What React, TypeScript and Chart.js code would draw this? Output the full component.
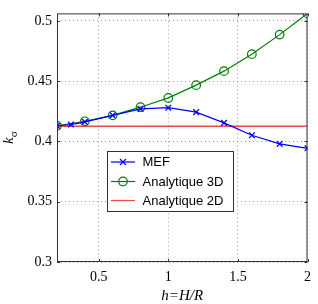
import React, { useEffect, useRef } from "react";
import { Chart, registerables } from "chart.js";

Chart.register(...registerables);

// Ratio h = H/R
const hMef = [0.2, 0.3, 0.4, 0.6, 0.8, 1.0, 1.2, 1.4, 1.6, 1.8, 2.0];
const kMef = [0.413, 0.414, 0.4162, 0.4216, 0.427, 0.428, 0.4243, 0.4154, 0.4051, 0.398, 0.3943];

const h3d = [0.2, 0.4, 0.6, 0.8, 1.0, 1.2, 1.4, 1.6, 1.8, 2.0];
const k3d = [0.413, 0.4167, 0.4216, 0.4284, 0.4361, 0.4467, 0.4583, 0.4724, 0.4886, 0.5062];

const h2d = [0.2, 2.0];
const k2d = [0.4126, 0.4126];

const xTicks = [0.5, 1, 1.5, 2];
const yTicks = [0.3, 0.35, 0.4, 0.45, 0.5];

const seriesNames = ["MEF", "Analytique 3D", "Analytique 2D"];

const BLUE = "#0000ff";
const GREEN = "#008000";
const RED = "#f04848";

const serif = "'Liberation Serif', 'Times New Roman', serif";
const sans = "'Liberation Sans', Arial, sans-serif";

const toPoints = (xs: number[], ys: number[]) => xs.map((x, i) => ({ x, y: ys[i] }));

// Box around the axes, inward tick marks, axis titles and the inset legend
const framePlugin = {
  id: "frame",
  afterDatasetsDraw(chart: any) {
    const { ctx, chartArea: a, scales } = chart;
    const xs = scales.x;
    const ys = scales.y;
    ctx.save();
    ctx.strokeStyle = "#333";
    ctx.lineWidth = 1;
    ctx.strokeRect(a.left + 0.5, a.top + 0.5, a.right - a.left - 1, a.bottom - a.top - 1);
    ctx.beginPath();
    xTicks.forEach((v) => {
      const px = Math.round(xs.getPixelForValue(v)) + 0.5;
      ctx.moveTo(px, a.bottom);
      ctx.lineTo(px, a.bottom - 3);
      ctx.moveTo(px, a.top);
      ctx.lineTo(px, a.top + 3);
    });
    yTicks.forEach((v) => {
      const py = Math.round(ys.getPixelForValue(v)) + 0.5;
      ctx.moveTo(a.left, py);
      ctx.lineTo(a.left + 3, py);
      ctx.moveTo(a.right, py);
      ctx.lineTo(a.right - 3, py);
    });
    ctx.stroke();

    // y title: k with subscript sigma
    ctx.fillStyle = "#000";
    ctx.save();
    ctx.translate(9, (a.top + a.bottom) / 2);
    ctx.rotate(-Math.PI / 2);
    ctx.textBaseline = "alphabetic";
    ctx.font = `italic 15px ${serif}`;
    const kw = ctx.measureText("k").width;
    ctx.font = `11px ${serif}`;
    const sw = ctx.measureText("σ").width;
    const start = -(kw + sw) / 2;
    ctx.font = `italic 15px ${serif}`;
    ctx.fillText("k", start, 4);
    ctx.font = `11px ${serif}`;
    ctx.fillText("σ", start + kw, 8);
    ctx.restore();

    // x title
    ctx.font = `italic 15px ${serif}`;
    ctx.textAlign = "center";
    ctx.textBaseline = "middle";
    ctx.fillText("h=H/R", (a.left + a.right) / 2, 296);

    // legend
    const lx = 107.5, ly = 151.5, lw = 126, lh = 60;
    ctx.fillStyle = "#fff";
    ctx.fillRect(lx, ly, lw, lh);
    ctx.strokeStyle = "#333";
    ctx.strokeRect(lx, ly, lw, lh);
    const rowsY = [162, 181.5, 200.5];
    const colors = [BLUE, GREEN, RED];
    rowsY.forEach((ry, i) => {
      ctx.strokeStyle = colors[i];
      ctx.lineWidth = 1.2;
      ctx.beginPath();
      ctx.moveTo(111, ry);
      ctx.lineTo(135, ry);
      ctx.stroke();
      if (i === 0) {
        ctx.beginPath();
        ctx.moveTo(120, ry - 3);
        ctx.lineTo(126, ry + 3);
        ctx.moveTo(126, ry - 3);
        ctx.lineTo(120, ry + 3);
        ctx.stroke();
      } else if (i === 1) {
        ctx.beginPath();
        ctx.arc(123, ry, 4.3, 0, Math.PI * 2);
        ctx.stroke();
      }
      ctx.fillStyle = "#000";
      ctx.font = `13px ${sans}`;
      ctx.textAlign = "left";
      ctx.textBaseline = "middle";
      ctx.fillText(seriesNames[i], 142.5, ry + 0.5);
    });
    ctx.restore();
  },
};

export default function App() {
  const ref = useRef<HTMLCanvasElement | null>(null);

  useEffect(() => {
    document.body.style.margin = "0";
    const canvas = ref.current;
    if (!canvas) return;
    const chart = new Chart(canvas, {
      type: "scatter",
      data: {
        datasets: [
          {
            label: seriesNames[0],
            data: toPoints(hMef, kMef),
            showLine: true,
            borderColor: BLUE,
            backgroundColor: BLUE,
            borderWidth: 1.2,
            pointStyle: "crossRot",
            pointRadius: 4,
            pointBorderWidth: 1.3,
            pointBorderColor: BLUE,
          },
          {
            label: seriesNames[1],
            data: toPoints(h3d, k3d),
            showLine: true,
            borderColor: GREEN,
            backgroundColor: "rgba(0,0,0,0)",
            borderWidth: 1.2,
            pointStyle: "circle",
            pointRadius: 4.3,
            pointBorderWidth: 1.2,
            pointBorderColor: GREEN,
          },
          {
            label: seriesNames[2],
            data: toPoints(h2d, k2d),
            showLine: true,
            borderColor: RED,
            backgroundColor: RED,
            borderWidth: 1.5,
            pointRadius: 0,
          },
        ],
      },
      options: {
        animation: false,
        responsive: false,
        events: [],
        layout: { padding: { top: 7, right: 6, left: 0, bottom: 0 } },
        plugins: { legend: { display: false }, tooltip: { enabled: false } },
        scales: {
          x: {
            type: "linear",
            min: 0.2,
            max: 2,
            afterBuildTicks: (s: any) => {
              s.ticks = xTicks.map((v) => ({ value: v }));
            },
            afterFit: (s: any) => {
              s.height = 42;
            },
            ticks: {
              color: "#000",
              font: { family: serif, size: 14 },
              padding: 7,
              maxRotation: 0,
              callback: (v: any) => String(v),
            },
            grid: { color: "#9a9a9a", lineWidth: 1, drawTicks: false },
            border: { display: false, dash: [1, 3] },
          },
          y: {
            type: "linear",
            min: 0.3,
            max: 0.5062,
            afterBuildTicks: (s: any) => {
              s.ticks = yTicks.map((v) => ({ value: v }));
            },
            afterFit: (s: any) => {
              s.width = 57;
            },
            ticks: {
              color: "#000",
              font: { family: serif, size: 14 },
              padding: 5,
              callback: (v: any) => String(v),
            },
            grid: { color: "#9a9a9a", lineWidth: 1, drawTicks: false },
            border: { display: false, dash: [1, 3] },
          },
        },
      },
      plugins: [framePlugin],
    } as any);
    return () => chart.destroy();
  }, []);

  return (
    <div style={{ width: 318, height: 304, background: "#fff" }}>
      <canvas ref={ref} width={318} height={304} style={{ display: "block" }} />
    </div>
  );
}
